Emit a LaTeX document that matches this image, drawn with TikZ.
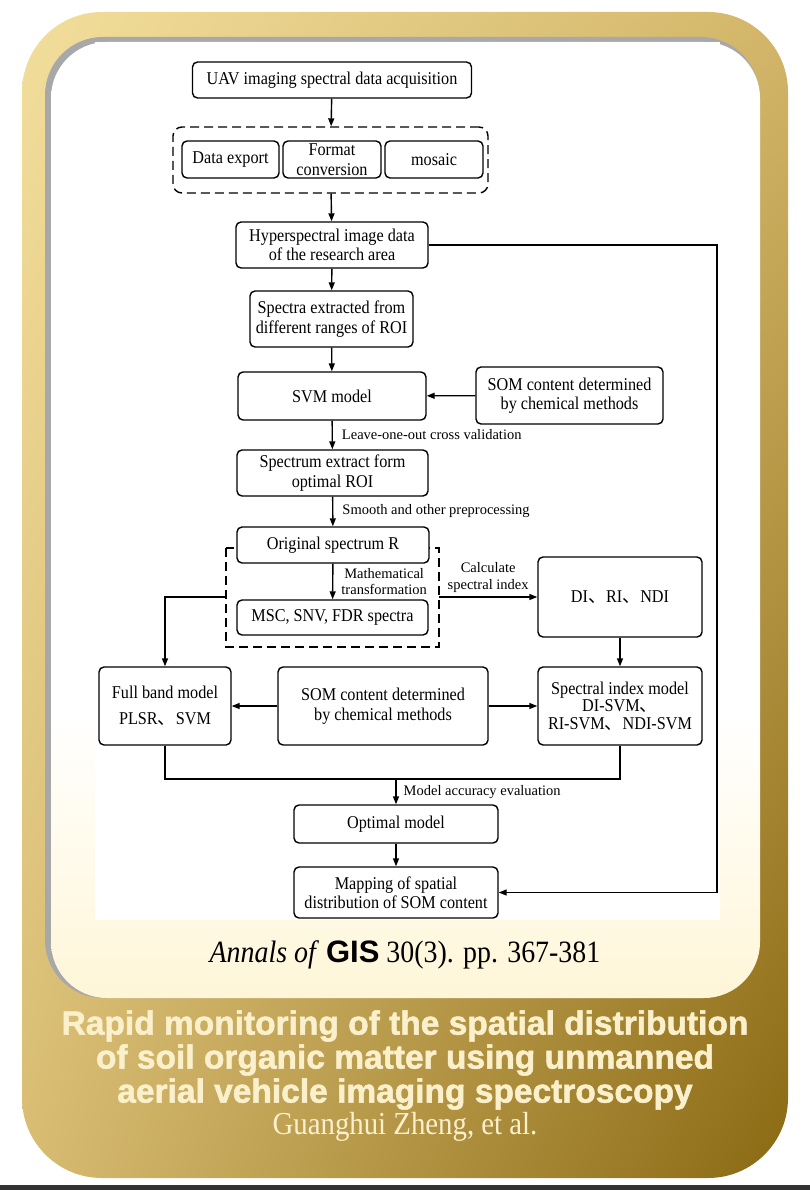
\documentclass[tikz,border=0pt]{standalone}
\usepackage{fontspec}
\setmainfont{Liberation Serif}[FakeStretch=0.9]
\newfontfamily\plainserif{Liberation Serif}
\newfontfamily\headfont{Liberation Sans}
\newfontfamily\titlefont{Liberation Sans}[FakeBold=1.6]
\newfontfamily\cjk{Noto Sans CJK SC}
\usetikzlibrary{arrows.meta, positioning, calc, shadings}
\definecolor{goldlight}{HTML}{F2DE9C}
\definecolor{goldmid}{HTML}{D3B669}
\definecolor{goldbase}{HTML}{D8BC72}
\definecolor{golddark}{HTML}{8A6912}
\definecolor{creampanel}{HTML}{FFF6D8}
\definecolor{creamtext}{HTML}{FBF0CC}
\definecolor{panelshadow}{HTML}{A8A8A8}
\newcommand{\boxfont}{\fontsize{18}{19.5}\selectfont}
\newcommand{\lblfont}{\plainserif\fontsize{14.5}{16.5}\selectfont}
\newcommand{\dun}{{\cjk 、}}
\pgfdeclareverticalshading{panelfade}{100bp}{color(0bp)=(creampanel); color(25bp)=(creampanel); color(40bp)=(white); color(100bp)=(white)}

\begin{document}
\begin{tikzpicture}[x=1pt, y=-1pt,
  box/.style={draw, rounded corners=5pt, line width=1.4pt, fill=white,
              align=center, inner sep=0pt, font=\boxfont},
  grpbox/.style={draw, dash pattern=on 9pt off 5pt, line width=1.4pt},
  arr/.style={-{Triangle[length=8pt, width=6pt]}, line width=1.4pt},
  lnk/.style={line width=1.4pt},
  lbl/.style={font=\lblfont, align=center, inner sep=1pt}
]
\useasboundingbox (0,0) rectangle (810,1190);

% frame and panel
\shade[rounded corners=80pt, upper left=goldlight, upper right=goldmid,
       lower left=goldbase, lower right=golddark] (22,12) rectangle (788,1178);
\fill[panelshadow, rounded corners=58pt] (45,37) rectangle (759,998);
\shade[shading=panelfade, rounded corners=56pt] (51,42) rectangle (760,998);
\fill[white] (95,42) rectangle (720,920);
\fill[black!80] (0,1185) rectangle (810,1190);

% acquisition
\node[box, minimum width=279pt, minimum height=36pt] (uav) at (332,80)
  {UAV imaging spectral data acquisition};
\node[grpbox, rounded corners=9pt, minimum width=315pt, minimum height=66pt] (prep) at (330.5,160) {};
\node[box, minimum width=97pt, minimum height=37pt] (export) at (230.5,159.5) {Data export};
\node[box, minimum width=98pt, minimum height=37pt] (format) at (332,159.5) {Format\\conversion};
\node[box, minimum width=98pt, minimum height=37pt] (mosaic) at (434,159.5) {mosaic};

% main column
\node[box, minimum width=192pt, minimum height=46pt] (hyper) at (332,245)
  {Hyperspectral image data\\of the research area};
\node[box, minimum width=163pt, minimum height=56pt] (roi) at (331.5,319)
  {Spectra extracted from\\different ranges of ROI};
\node[box, minimum width=188pt, minimum height=48pt] (svm) at (332,396) {SVM model};
\node[box, minimum width=187pt, minimum height=57pt] (somtop) at (569.5,395.5)
  {SOM content determined\\by chemical methods};
\node[box, minimum width=191pt, minimum height=46pt] (optroi) at (332.5,473)
  {Spectrum extract form\\optimal ROI};

% transformation group
\draw[grpbox] (226,548) rectangle (439,647);
\coordinate (trW) at (226,597);
\coordinate (trE) at (439,597);
\node[box, minimum width=192pt, minimum height=36pt] (orig) at (333,545) {Original spectrum R};
\node[box, minimum width=191pt, minimum height=35pt] (msc) at (332.5,617.5) {MSC, SNV, FDR spectra};
\node[box, minimum width=164pt, minimum height=80pt] (di) at (620,597) {DI\dun RI\dun NDI};

% models
\node[box, minimum width=132pt, minimum height=78pt] (full) at (165,706)
  {Full band model\\[6pt]PLSR\dun SVM};
\node[box, minimum width=210pt, minimum height=78pt] (sommid) at (383,706)
  {SOM content determined\\by chemical methods};
\node[box, minimum width=164pt, minimum height=78pt] (sim) at (620,706)
  {Spectral index model\\[-2pt]DI-SVM\dun\\[-2pt]RI-SVM\dun NDI-SVM};
\node[box, minimum width=204pt, minimum height=38pt] (optimal) at (396,824) {Optimal model};
\node[box, minimum width=204pt, minimum height=51pt] (mapping) at (396,892.5)
  {Mapping of spatial\\distribution of SOM content};
\coordinate (join) at (396,779);
\coordinate (rside) at (717,0);

\draw[arr] (uav) -- (prep);
\draw[arr] (prep) -- (hyper);
\draw[arr] (hyper) -- (roi);
\draw[arr] (roi) -- (svm);
\draw[arr] (somtop) -- (svm);
\draw[arr] (svm) -- (optroi)
  node[midway, right=8pt, lbl] {Leave-one-out cross validation};
\draw[arr] (optroi) -- (orig)
  node[midway, right=8pt, lbl] {Smooth and other preprocessing};
\draw[arr] (orig) -- (msc)
  node[midway, right=7pt, lbl] {Mathematical\\transformation};
\draw[arr] (trE) -- (di.west)
  node[midway, above=3pt, lbl] {Calculate\\spectral index};
\draw[arr] (trW) -| (full.north);
\draw[arr] (di) -- (sim);
\draw[arr] (sommid) -- (full);
\draw[arr] (sommid) -- (sim);
\draw[lnk] (full.south) |- (join) -| (sim.south);
\draw[arr] (join) -- (optimal)
  node[midway, right=6pt, lbl] {Model accuracy evaluation};
\draw[arr] (optimal) -- (mapping);
\draw[arr] (hyper.east) -- (hyper.east -| rside) |- (mapping.east);

% caption
\node[font=\fontsize{31}{33}\selectfont] (journal) at (405,955)
  {\textit{Annals of} {\headfont\bfseries GIS} 30(3). pp. 367-381};
\node[font=\titlefont\bfseries\fontsize{33.5}{34}\selectfont, text=creamtext, align=center] (title) at (405,1060)
  {Rapid monitoring of the spatial distribution\\of soil organic matter using unmanned\\aerial vehicle imaging spectroscopy};
\node[font=\fontsize{32}{34}\selectfont, text=creamtext] (author) at (405,1127) {Guanghui Zheng, et al.};
\end{tikzpicture}
\end{document}
